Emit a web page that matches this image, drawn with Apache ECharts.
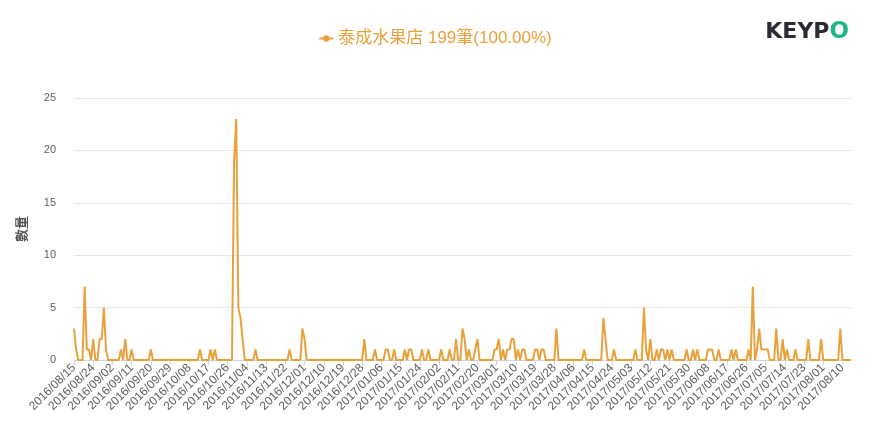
<!DOCTYPE html>
<html>
<head>
<meta charset="utf-8">
<script src="https://cdn.jsdelivr.net/npm/echarts@6/dist/echarts.min.js"></script>
<style>
html,body{margin:0;padding:0;background:#fff;}
#main{width:870px;height:425px;}
</style>
</head>
<body>
<div id="main"></div>
<script>
var startDate = '2016/08/15';
var dayCount = 365;
var seriesName = '泰成水果店 199筆(100.00%)';
var yAxisName = '數量';
var counts = [
  3,1,0,0,0,7,1,1,0,2,
  0,0,2,2,5,1,0,0,0,0,
  0,0,1,0,2,0,0,1,0,0,
  0,0,0,0,0,0,1,0,0,0,
  0,0,0,0,0,0,0,0,0,0,
  0,0,0,0,0,0,0,0,0,1,
  0,0,0,0,1,0,1,0,0,0,
  0,0,0,0,0,19,23,5,4,2,
  0,0,0,0,0,1,0,0,0,0,
  0,0,0,0,0,0,0,0,0,0,
  0,1,0,0,0,0,0,3,2,0,
  0,0,0,0,0,0,0,0,0,0,
  0,0,0,0,0,0,0,0,0,0,
  0,0,0,0,0,0,2,0,0,0,
  0,1,0,0,0,0,1,1,0,0,
  1,0,0,0,0,1,0,1,1,0,
  0,0,0,1,0,0,1,0,0,0,
  0,0,1,0,0,0,1,0,0,2,
  0,0,3,2,0,1,0,0,1,2,
  0,0,0,0,0,0,0,1,1,2,
  0,1,0,1,1,2,2,0,1,0,
  1,1,0,0,0,0,1,1,0,1,
  1,0,0,0,0,0,3,0,0,0,
  0,0,0,0,0,0,0,0,0,1,
  0,0,0,0,0,0,0,0,4,2,
  0,0,0,1,0,0,0,0,0,0,
  0,0,0,1,0,0,0,5,1,0,
  2,0,0,1,0,1,1,0,1,0,
  1,0,0,0,0,0,0,1,0,0,
  1,0,1,0,0,0,0,1,1,1,
  0,0,1,0,0,0,0,0,1,0,
  1,0,0,0,0,0,1,0,7,0,
  1,3,1,1,1,1,0,0,0,3,
  0,0,2,0,1,0,0,0,1,0,
  0,0,0,0,2,0,0,0,0,0,
  2,0,0,0,0,0,0,0,0,3,
  0,0,0,0,0
];

function pad(n){return (n<10?'0':'')+n;}
var dates = [];
(function(){
  var p = startDate.split('/');
  var d = new Date(Date.UTC(+p[0], +p[1]-1, +p[2]));
  for (var i=0;i<dayCount;i++){
    dates.push(d.getUTCFullYear()+'/'+pad(d.getUTCMonth()+1)+'/'+pad(d.getUTCDate()));
    d = new Date(d.getTime()+86400000);
  }
})();

var lineColor = '#e9a13b';
var chart = echarts.init(document.getElementById('main'));
chart.setOption({
  backgroundColor:'#ffffff',
  animation:false,
  textStyle:{fontFamily:'"Noto Sans CJK TC","Noto Sans",sans-serif'},
  legend:{
    top:25, left:'center',
    itemWidth:14, itemHeight:8, itemGap:10,
    textStyle:{color:lineColor, fontSize:17, fontFamily:'"Liberation Sans","Noto Sans CJK TC",sans-serif'},
    data:[seriesName]
  },
  graphic:[{
    type:'text', right:21, top:21,
    style:{
      text:'{a|KEYP}{b|O}',
      rich:{
        a:{fill:'#2b2b33', fontSize:22, fontWeight:'bold', fontFamily:'"DejaVu Sans",sans-serif'},
        b:{fill:'#1fb58a', fontSize:23, fontWeight:'bold', fontFamily:'"DejaVu Sans",sans-serif'}
      }
    }
  }],
  grid:{left:74, right:19, top:98, bottom:65},
  xAxis:{
    type:'category',
    boundaryGap:false,
    data:dates,
    axisLine:{lineStyle:{color:'#ccd6eb'}},
    axisTick:{interval:8, alignWithLabel:true, lineStyle:{color:'#ccd6eb'}},
    axisLabel:{interval:8, rotate:45, color:'#606060', fontSize:12, fontFamily:'"Liberation Sans",sans-serif', margin:6}
  },
  yAxis:{
    type:'value',
    min:0, max:25, interval:5,
    name:yAxisName,
    nameLocation:'middle',
    nameRotate:90,
    nameGap:46,
    nameTextStyle:{color:'#555', fontSize:13, fontWeight:'bold', fontFamily:'"Noto Sans CJK TC",sans-serif'},
    axisLine:{show:false},
    axisTick:{show:false},
    axisLabel:{color:'#606060', fontSize:11, fontFamily:'"Liberation Sans",sans-serif', margin:18},
    splitLine:{lineStyle:{color:'#e6e6e6'}}
  },
  series:[{
    name:seriesName,
    type:'line',
    data:counts,
    symbol:'circle',
    symbolSize:6,
    showSymbol:false,
    itemStyle:{color:lineColor},
    lineStyle:{color:lineColor, width:2}
  }]
});
</script>
</body>
</html>
